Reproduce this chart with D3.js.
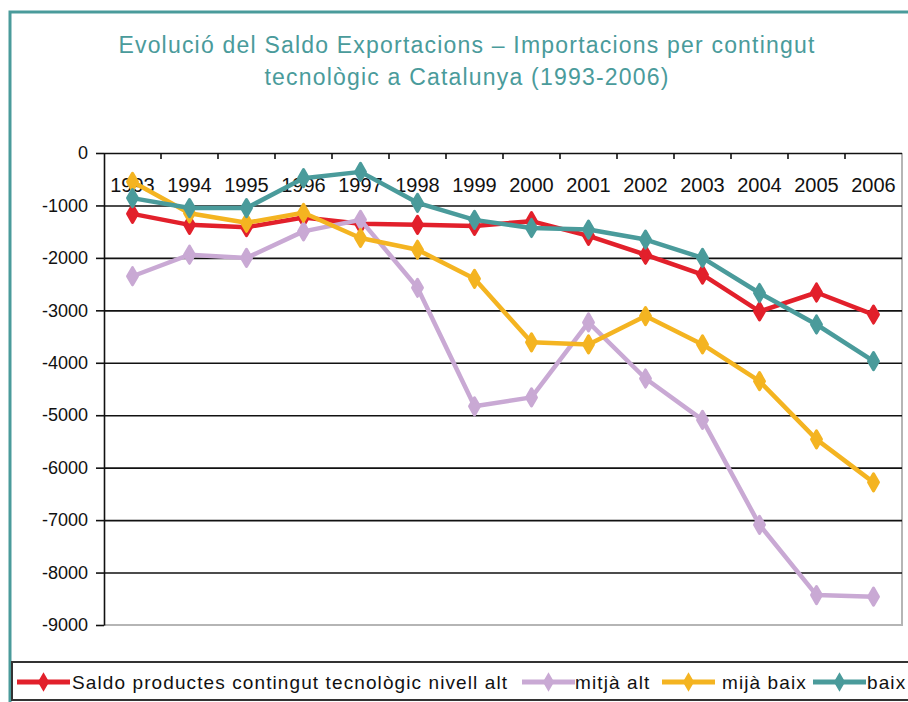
<!DOCTYPE html>
<html>
<head>
<meta charset="utf-8">
<script src="https://cdn.jsdelivr.net/npm/d3@7"></script>
<style>
  body { margin: 0; background: #fff; }
  svg { display: block; font-family: Arial, "Liberation Sans", sans-serif; }
</style>
</head>
<body>
<div class="chart"></div>
<script>
var years = ['1993', '1994', '1995', '1996', '1997', '1998', '1999', '2000', '2001', '2002', '2003', '2004', '2005', '2006'];
var yTicks = [0, -1000, -2000, -3000, -4000, -5000, -6000, -7000, -8000, -9000];
var seriesNames = ['Saldo productes contingut tecnològic nivell alt', 'mitjà alt', 'mijà baix', 'baix'];
var nivellAlt = [-1160, -1370, -1415, -1230, -1350, -1370, -1390, -1300, -1580, -1940, -2320, -3020, -2660, -3080];
var mitjaAlt = [-2350, -1940, -2000, -1495, -1275, -2570, -4830, -4660, -3230, -4300, -5090, -7090, -8430, -8460];
var mijaBaix = [-550, -1150, -1330, -1140, -1620, -1845, -2400, -3610, -3650, -3110, -3650, -4350, -5460, -6280];
var baix = [-860, -1050, -1050, -480, -360, -950, -1275, -1430, -1460, -1650, -2000, -2670, -3270, -3970];
var titleLines = ['Evolució del Saldo Exportacions – Importacions per contingut', 'tecnològic a Catalunya (1993-2006)'];

var colors = ['#e2202b', '#c9a9d4', '#f4b421', '#4a9b9b'];
var width = 908, height = 702;
var plot = { left: 104, right: 902, top: 153, bottom: 625 };

var svg = d3.select('.chart').append('svg')
    .attr('width', width)
    .attr('height', height);

// outer frame
svg.append('path')
    .attr('d', 'M10,' + height + ' V12 H' + width)
    .attr('fill', 'none')
    .attr('stroke', '#4a9b9b')
    .attr('stroke-width', 3);

// title
svg.selectAll('.title')
    .data(titleLines)
    .enter()
    .append('text')
    .attr('class', 'title')
    .attr('x', 467)
    .attr('y', function (d, i) { return 53 + i * 32; })
    .attr('text-anchor', 'middle')
    .attr('fill', '#4a9b9b')
    .style('font-size', '23px')
    .style('letter-spacing', '1.2px')
    .text(function (d) { return d; });

var x = d3.scaleBand().domain(years).range([plot.left, plot.right]).padding(0);
var y = d3.scaleLinear().domain([-9000, 0]).range([plot.bottom, plot.top]);

// plot border (right / bottom)
svg.append('path')
    .attr('d', 'M' + plot.left + ',' + plot.bottom + ' H' + plot.right + ' V' + plot.top)
    .attr('fill', 'none')
    .attr('stroke', '#b5b5b5')
    .attr('stroke-width', 2);

// gridlines
svg.append('g')
    .attr('transform', 'translate(' + plot.left + ',0)')
    .call(d3.axisLeft(y).tickValues(yTicks.slice(0, -1)).tickSize(-(plot.right - plot.left)).tickFormat(''))
    .call(function (g) {
        g.select('.domain').remove();
        g.selectAll('line').attr('stroke', '#111').attr('stroke-width', 1.6);
    });

// y axis
svg.append('g')
    .attr('transform', 'translate(' + plot.left + ',0)')
    .call(d3.axisLeft(y).tickValues(yTicks).tickSize(8).tickSizeOuter(0).tickPadding(8).tickFormat(function (d) { return String(d); }))
    .call(function (g) {
        g.select('.domain').attr('stroke', '#111').attr('stroke-width', 1.6);
        g.selectAll('line').attr('stroke', '#111').attr('stroke-width', 1.6);
        g.selectAll('text').attr('fill', '#111').style('font-size', '18px').style('font-family', 'Arial, "Liberation Sans", sans-serif');
    });

// x axis along the zero line, ticks between categories
svg.selectAll('.xtick')
    .data(years.slice(1))
    .enter()
    .append('line')
    .attr('class', 'xtick')
    .attr('x1', function (d) { return x(d); })
    .attr('x2', function (d) { return x(d); })
    .attr('y1', y(0))
    .attr('y2', y(0) + 6)
    .attr('stroke', '#111')
    .attr('stroke-width', 1.6);

svg.selectAll('.xlabel')
    .data(years)
    .enter()
    .append('text')
    .attr('class', 'xlabel')
    .attr('x', function (d) { return x(d) + x.bandwidth() / 2; })
    .attr('y', y(0) + 39)
    .attr('text-anchor', 'middle')
    .attr('fill', '#111')
    .style('font-size', '20px')
    .text(function (d) { return d; });

// series
var allSeries = [nivellAlt, mitjaAlt, mijaBaix, baix];
var line = d3.line()
    .x(function (d, i) { return x(years[i]) + x.bandwidth() / 2; })
    .y(function (d) { return y(d); });
var marker = d3.symbol().type(d3.symbolDiamond).size(85);

allSeries.forEach(function (values, s) {
    var g = svg.append('g');
    g.append('path')
        .datum(values)
        .attr('d', line)
        .attr('fill', 'none')
        .attr('stroke', colors[s])
        .attr('stroke-width', 4.5)
        .attr('stroke-linejoin', 'round');
    g.selectAll('path.mk')
        .data(values)
        .enter()
        .append('path')
        .attr('class', 'mk')
        .attr('d', marker)
        .attr('transform', function (d, i) {
            return 'translate(' + (x(years[i]) + x.bandwidth() / 2) + ',' + y(d) + ')';
        })
        .attr('fill', colors[s])
        .attr('stroke', colors[s])
        .attr('stroke-width', 3)
        .attr('stroke-linejoin', 'round');
});

// legend box
svg.append('path')
    .attr('d', 'M' + width + ',662 H12 V700 H' + width)
    .attr('fill', 'none')
    .attr('stroke', '#333')
    .attr('stroke-width', 2);

var legendX = [17, 522, 662, 813];
var legendTextX = [72, 575, 722, 867];
var legendMarker = d3.symbol().type(d3.symbolDiamond).size(70);
var legend = svg.selectAll('.legend')
    .data(seriesNames)
    .enter()
    .append('g')
    .attr('class', 'legend');

legend.append('line')
    .attr('x1', function (d, i) { return legendX[i]; })
    .attr('x2', function (d, i) { return legendX[i] + 53; })
    .attr('y1', 682)
    .attr('y2', 682)
    .attr('stroke', function (d, i) { return colors[i]; })
    .attr('stroke-width', 5);
legend.append('path')
    .attr('d', legendMarker)
    .attr('transform', function (d, i) { return 'translate(' + (legendX[i] + 26.5) + ',682)'; })
    .attr('fill', function (d, i) { return colors[i]; })
    .attr('stroke', function (d, i) { return colors[i]; })
    .attr('stroke-width', 2);
legend.append('text')
    .attr('x', function (d, i) { return legendTextX[i]; })
    .attr('y', 689)
    .attr('fill', '#111')
    .style('font-size', '19px')
    .style('letter-spacing', '1.1px')
    .text(function (d) { return d; });
</script>
</body>
</html>
